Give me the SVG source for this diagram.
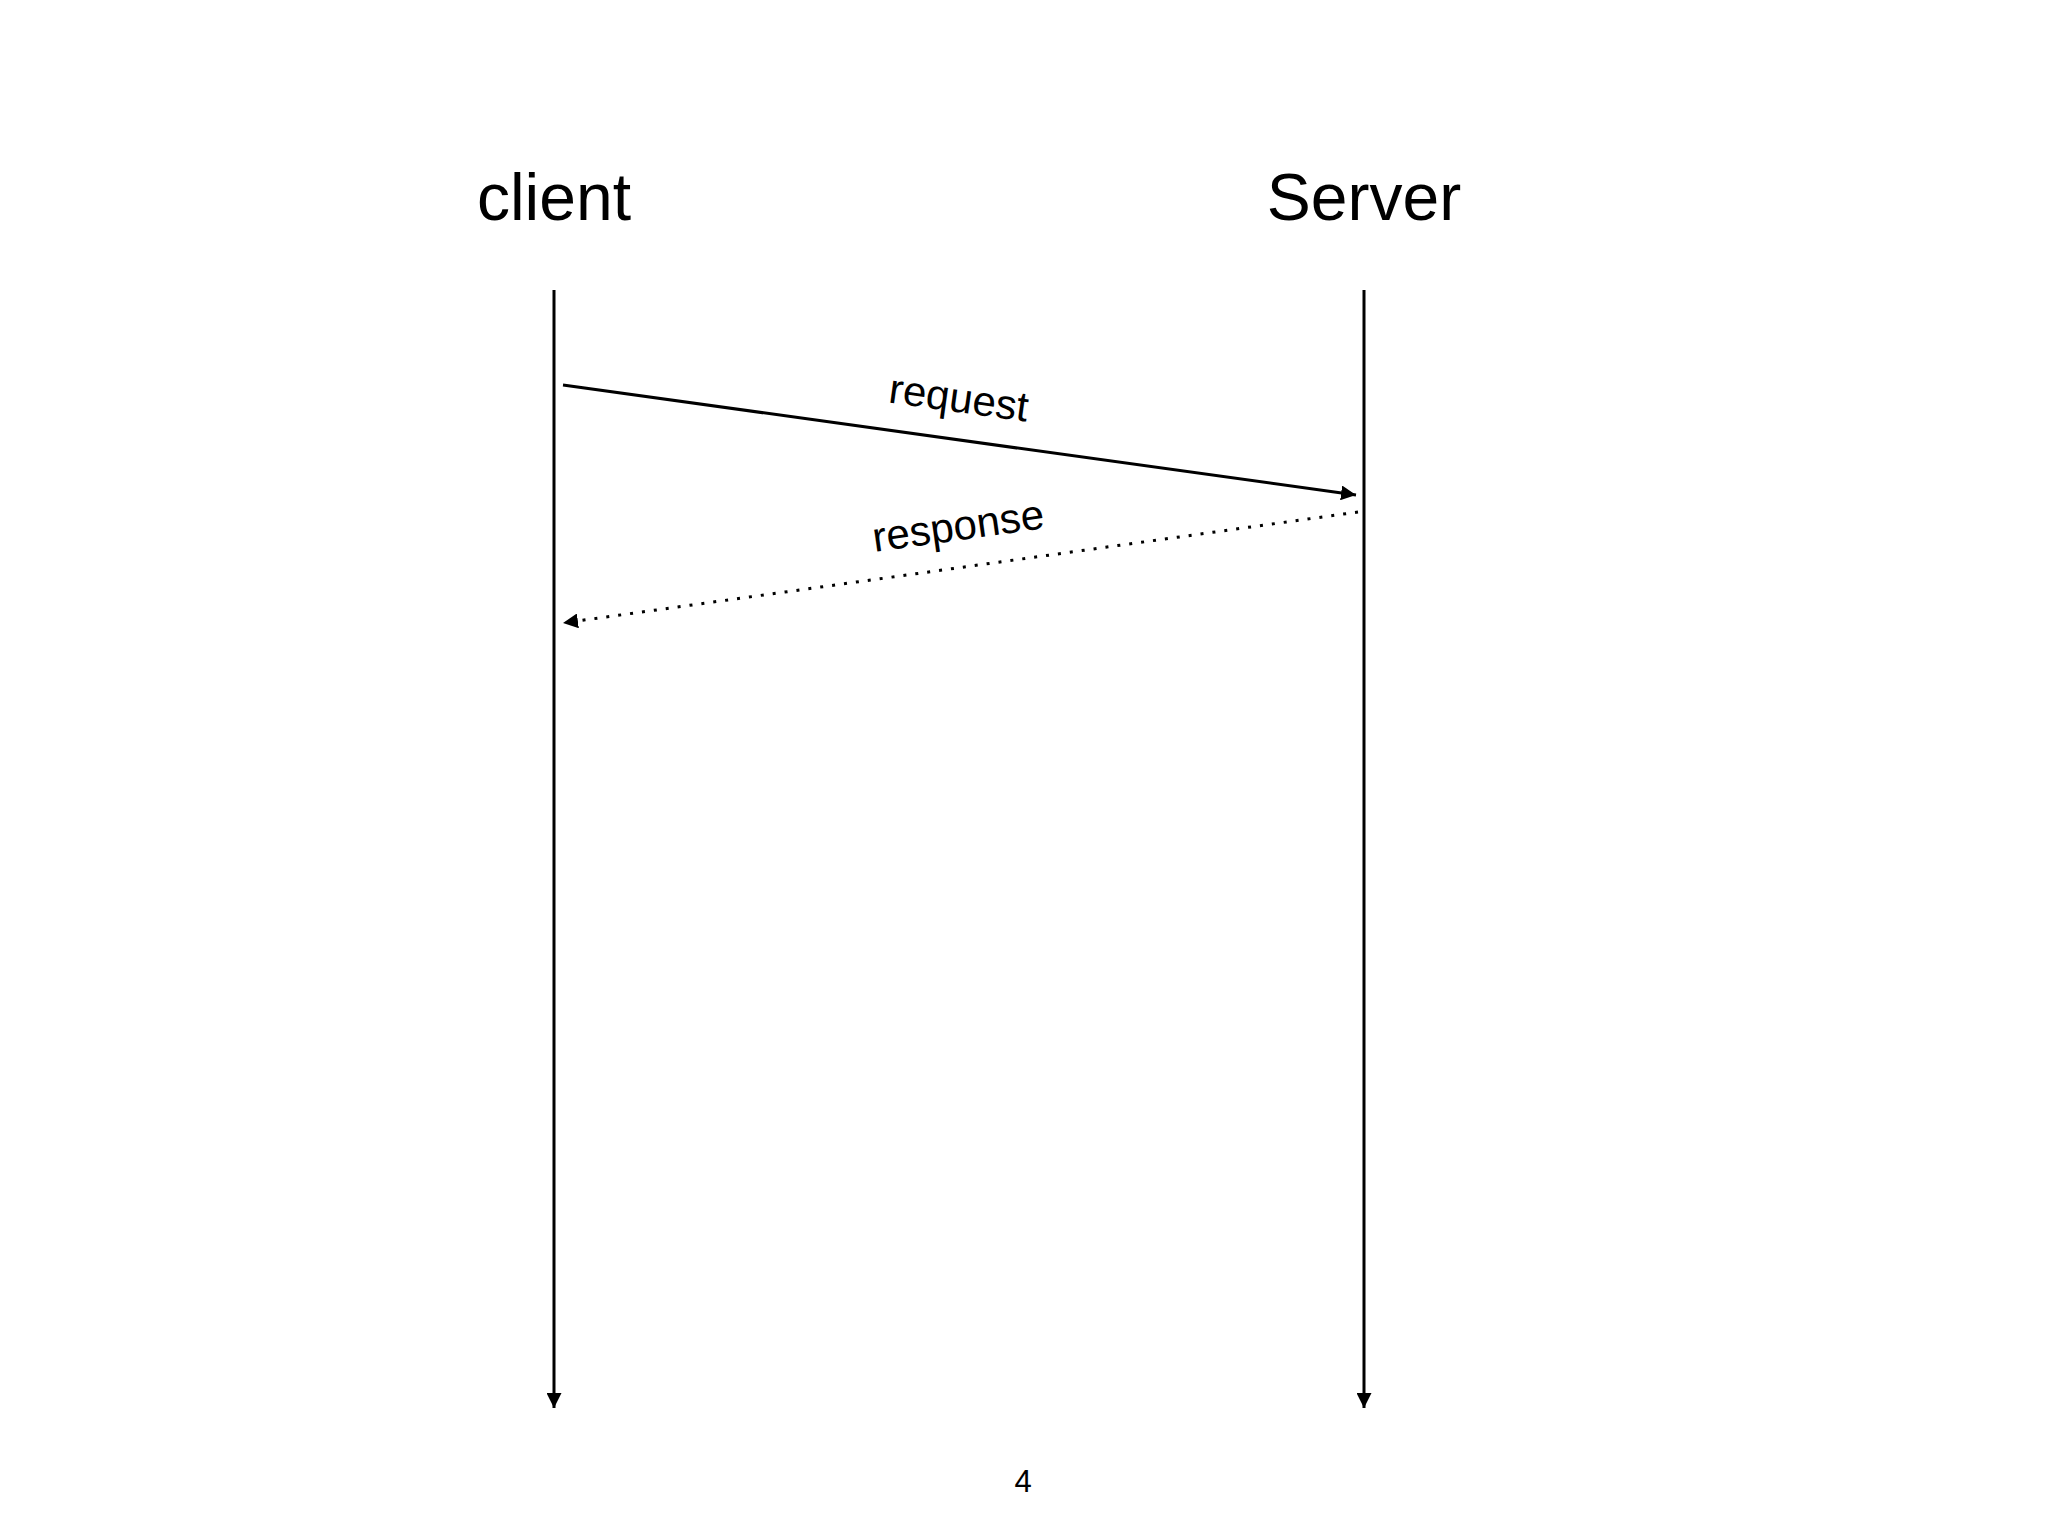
<svg xmlns="http://www.w3.org/2000/svg" width="2048" height="1536" viewBox="0 0 2048 1536">
<style>
text{font-family:"Liberation Sans",Arial,sans-serif;fill:#000}
.l{stroke:#000;stroke-width:3;fill:none}
</style>
<defs>
<marker id="a" viewBox="0 0 10 10" refX="10" refY="5" markerWidth="5" markerHeight="5" orient="auto" markerUnits="strokeWidth"><path d="M0,0L10,5L0,10z" fill="#000"/></marker>
</defs>
<rect width="2048" height="1536" fill="#fff"/>
<g id="client"><text x="554" y="220" font-size="66" text-anchor="middle">client</text></g>
<g id="server"><text x="1364" y="220" font-size="66" text-anchor="middle">Server</text></g>
<g id="connectors">
<line class="l" x1="554" y1="290" x2="554" y2="1408" marker-end="url(#a)"/>
<line class="l" x1="1364" y1="290" x2="1364" y2="1408" marker-end="url(#a)"/>
<line class="l" x1="563" y1="385" x2="1356" y2="495" marker-end="url(#a)"/>
<line class="l" x1="1358" y1="512" x2="563" y2="623" stroke-dasharray="3 9" stroke-width="4" marker-end="url(#a)"/>
<text font-size="42" text-anchor="middle" transform="translate(957,412) rotate(7.9)">request</text>
<text font-size="42" text-anchor="middle" transform="translate(960,540) rotate(-8)">response</text>
</g>
<text x="1023" y="1492" font-size="31" text-anchor="middle">4</text>
</svg>
